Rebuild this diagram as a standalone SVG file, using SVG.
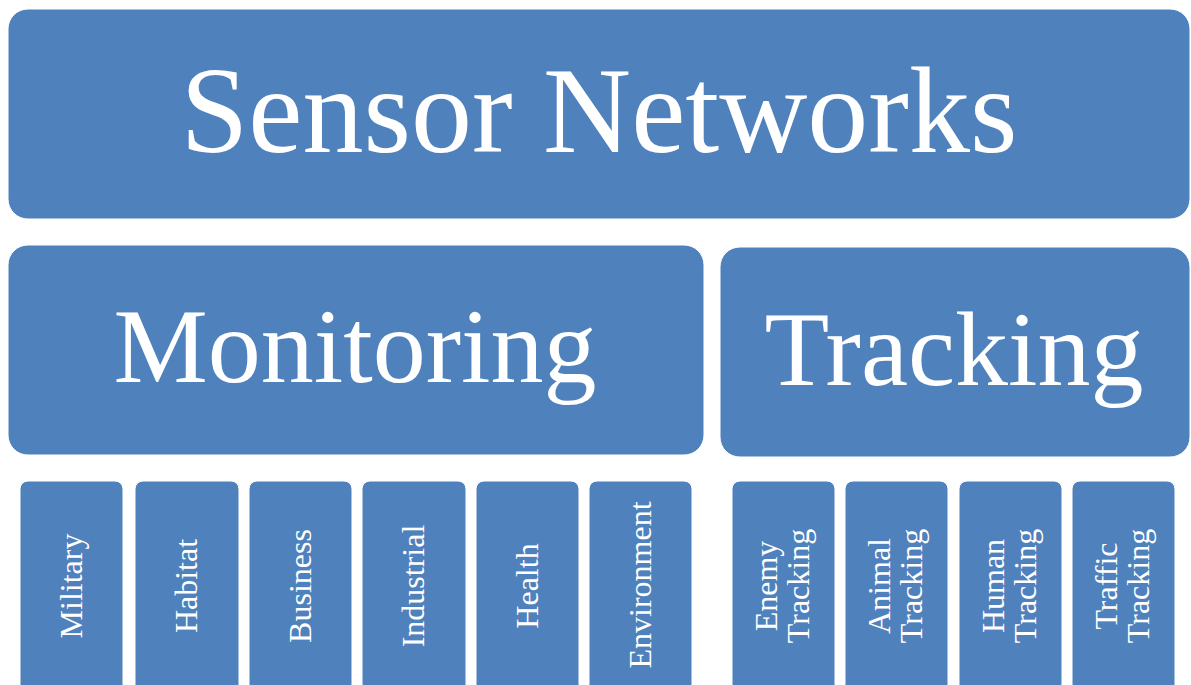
<svg xmlns="http://www.w3.org/2000/svg" width="1191" height="685" viewBox="0 0 1191 685">
<style>
.box{fill:#4f81bd;stroke:#ffffff;stroke-width:1}
.t{font-family:'Liberation Serif','Times New Roman',serif;fill:#ffffff;text-anchor:middle}
.big{font-size:122px}
.mid{font-size:106px}
.sm{font-size:32px}
</style>
<rect width="1191" height="685" fill="#ffffff"/>
<g id="connectors"></g>
<g id="sensor-networks">
<rect class="box" x="8" y="9" width="1182" height="210" rx="20"/>
<text class="t big" x="599" y="152">Sensor Networks</text>
</g>
<g id="monitoring">
<rect class="box" x="8" y="245" width="696" height="210" rx="20"/>
<text class="t mid" x="355" y="382">Monitoring</text>
</g>
<g id="tracking">
<rect class="box" x="720" y="247" width="470" height="210" rx="20"/>
<text class="t mid" x="954" y="385">Tracking</text>
</g>
<g id="military">
<rect class="box" x="20" y="481" width="103" height="230" rx="8"/>
<text class="t sm" transform="translate(71.5 586) rotate(-90)" x="0" y="10">Military</text>
</g>
<g id="habitat">
<rect class="box" x="135" y="481" width="104" height="230" rx="8"/>
<text class="t sm" transform="translate(187 586) rotate(-90)" x="0" y="10">Habitat</text>
</g>
<g id="business">
<rect class="box" x="249" y="481" width="103" height="230" rx="8"/>
<text class="t sm" transform="translate(300.5 586) rotate(-90)" x="0" y="10">Business</text>
</g>
<g id="industrial">
<rect class="box" x="362" y="481" width="104" height="230" rx="8"/>
<text class="t sm" transform="translate(414 586) rotate(-90)" x="0" y="10">Industrial</text>
</g>
<g id="health">
<rect class="box" x="476" y="481" width="103" height="230" rx="8"/>
<text class="t sm" transform="translate(527.5 586) rotate(-90)" x="0" y="10">Health</text>
</g>
<g id="environment">
<rect class="box" x="589" y="481" width="103" height="230" rx="8"/>
<text class="t sm" transform="translate(640.5 585) rotate(-90)" x="0" y="10">Environment</text>
</g>
<g id="enemy-tracking">
<rect class="box" x="732" y="481" width="103" height="230" rx="8"/>
<text class="t sm" transform="translate(783.5 586) rotate(-90)"><tspan x="0" y="-6.5">Enemy</tspan><tspan x="0" y="25.5">Tracking</tspan></text>
</g>
<g id="animal-tracking">
<rect class="box" x="845" y="481" width="103" height="230" rx="8"/>
<text class="t sm" transform="translate(896.5 586) rotate(-90)"><tspan x="0" y="-6.5">Animal</tspan><tspan x="0" y="25.5">Tracking</tspan></text>
</g>
<g id="human-tracking">
<rect class="box" x="959" y="481" width="103" height="230" rx="8"/>
<text class="t sm" transform="translate(1010.5 586) rotate(-90)"><tspan x="0" y="-6.5">Human</tspan><tspan x="0" y="25.5">Tracking</tspan></text>
</g>
<g id="traffic-tracking">
<rect class="box" x="1072" y="481" width="103" height="230" rx="8"/>
<text class="t sm" transform="translate(1123.5 586) rotate(-90)"><tspan x="0" y="-6.5">Traffic</tspan><tspan x="0" y="25.5">Tracking</tspan></text>
</g>
</svg>
